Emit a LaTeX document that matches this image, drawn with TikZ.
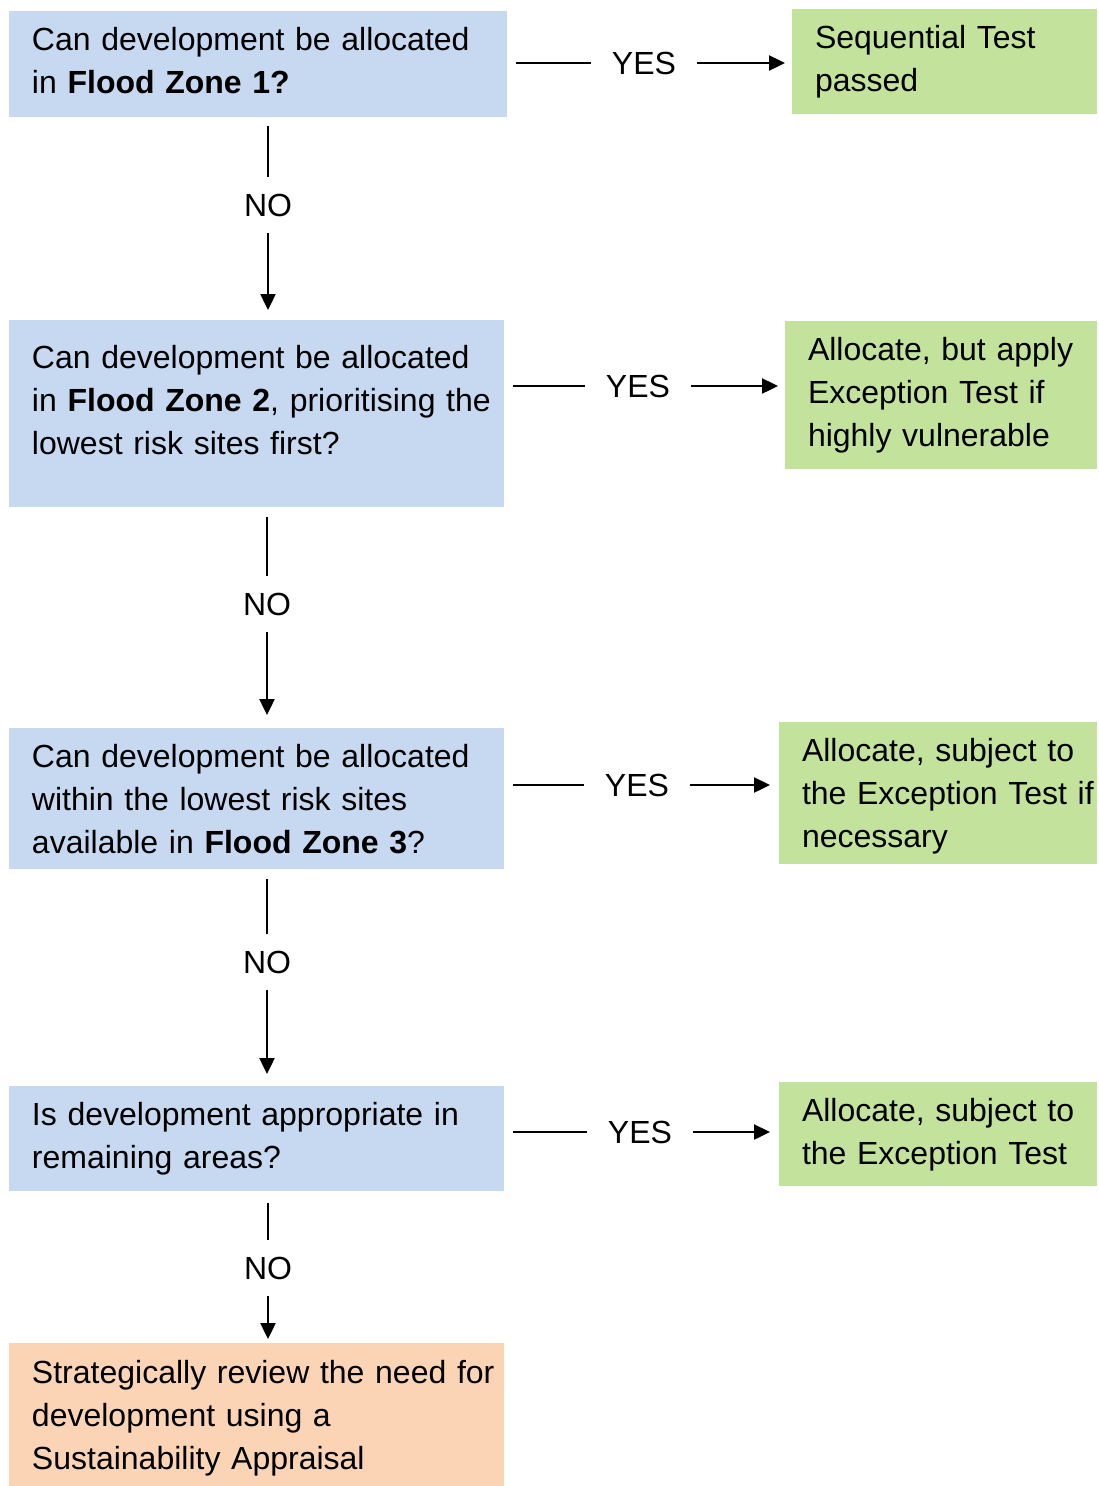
\documentclass[tikz,border=0pt]{standalone}
\usepackage{fontspec}
\setmainfont{Liberation Sans}
\usetikzlibrary{arrows.meta}
\definecolor{qblue}{HTML}{C6D9F0}
\definecolor{agreen}{HTML}{C3E39D}
\definecolor{rorange}{HTML}{FAD4B5}
\tikzset{
  flowbox/.style={anchor=north west, inner xsep=0pt, inner ysep=0pt, outer sep=0pt, align=left,
    font=\fontsize{32}{43}\selectfont, text height=39pt, execute at begin node={\leftskip=23pt}},
  qbox/.style={flowbox, fill=qblue},
  abox/.style={flowbox, fill=agreen},
  rbox/.style={flowbox, fill=rorange},
  answer/.style={font=\fontsize{32}{43}\selectfont, inner xsep=21pt, inner ysep=17pt, text depth=0pt, outer sep=0pt},
  conn/.style={line width=2.4pt},
  arrowed/.style={-{Triangle[length=16pt,width=15pt]}}
}
\begin{document}
\begin{tikzpicture}[x=1pt,y=-1pt]
    \useasboundingbox (0,0) rectangle (1098,1486);
    % Question boxes
    \node[qbox, text width=498pt, text depth=67pt] (q1) at (9,11)
        {Can development be allocated\\in \textbf{Flood Zone 1?}};
    \node[qbox, text width=495pt, text height=48pt, text depth=139pt] (q2) at (9,320)
        {Can development be allocated\\in \textbf{Flood Zone 2}, prioritising the\\lowest risk sites first?};
    \node[qbox, text width=495pt, text depth=102pt] (q3) at (9,728)
        {Can development be allocated\\within the lowest risk sites\\available in \textbf{Flood Zone 3}?};
    \node[qbox, text width=495pt, text depth=66pt] (q4) at (9,1086)
        {Is development appropriate in\\remaining areas?};
    \node[rbox, text width=495pt, text height=40pt, text depth=103pt] (review) at (9,1343)
        {Strategically review the need for\\development using a\\Sustainability Appraisal};
    % Outcome boxes
    \node[abox, text width=305pt, text depth=66pt] (a1) at (792,9)
        {Sequential Test\\passed};
    \node[abox, text width=312pt, text depth=109pt] (a2) at (785,321)
        {Allocate, but apply\\Exception Test if\\highly vulnerable};
    \node[abox, text width=318pt, text depth=103pt] (a3) at (779,722)
        {Allocate, subject to\\the Exception Test if\\necessary};
    \node[abox, text width=318pt, text depth=65pt] (a4) at (779,1082)
        {Allocate, subject to\\the Exception Test};
    % YES connectors
    \node[answer] (yes1) at (644,63) {YES};
    \draw[conn, shorten <=9pt] (yes1 -| q1.east) -- (yes1.west);
    \draw[conn, arrowed, shorten >=7pt] (yes1.east) -- (yes1 -| a1.west);
    \node[answer] (yes2) at (638,386) {YES};
    \draw[conn, shorten <=9pt] (yes2 -| q2.east) -- (yes2.west);
    \draw[conn, arrowed, shorten >=7pt] (yes2.east) -- (yes2 -| a2.west);
    \node[answer] (yes3) at (637,785) {YES};
    \draw[conn, shorten <=9pt] (yes3 -| q3.east) -- (yes3.west);
    \draw[conn, arrowed, shorten >=9pt] (yes3.east) -- (yes3 -| a3.west);
    \node[answer] (yes4) at (640,1132) {YES};
    \draw[conn, shorten <=9pt] (yes4 -| q4.east) -- (yes4.west);
    \draw[conn, arrowed, shorten >=9pt] (yes4.east) -- (yes4 -| a4.west);
    % NO connectors
    \node[answer] (no1) at (268,205) {NO};
    \draw[conn, shorten <=9pt] (q1.south -| no1) -- (no1.north);
    \draw[conn, arrowed, shorten >=10pt] (no1.south) -- (q2.north -| no1);
    \node[answer] (no2) at (267,604) {NO};
    \draw[conn, shorten <=10pt] (q2.south -| no2) -- (no2.north);
    \draw[conn, arrowed, shorten >=13pt] (no2.south) -- (q3.north -| no2);
    \node[answer] (no3) at (267,962) {NO};
    \draw[conn, shorten <=10pt] (q3.south -| no3) -- (no3.north);
    \draw[conn, arrowed, shorten >=12pt] (no3.south) -- (q4.north -| no3);
    \node[answer] (no4) at (268,1268) {NO};
    \draw[conn, shorten <=12pt] (q4.south -| no4) -- (no4.north);
    \draw[conn, arrowed, shorten >=4pt] (no4.south) -- (review.north -| no4);
\end{tikzpicture}
\end{document}
